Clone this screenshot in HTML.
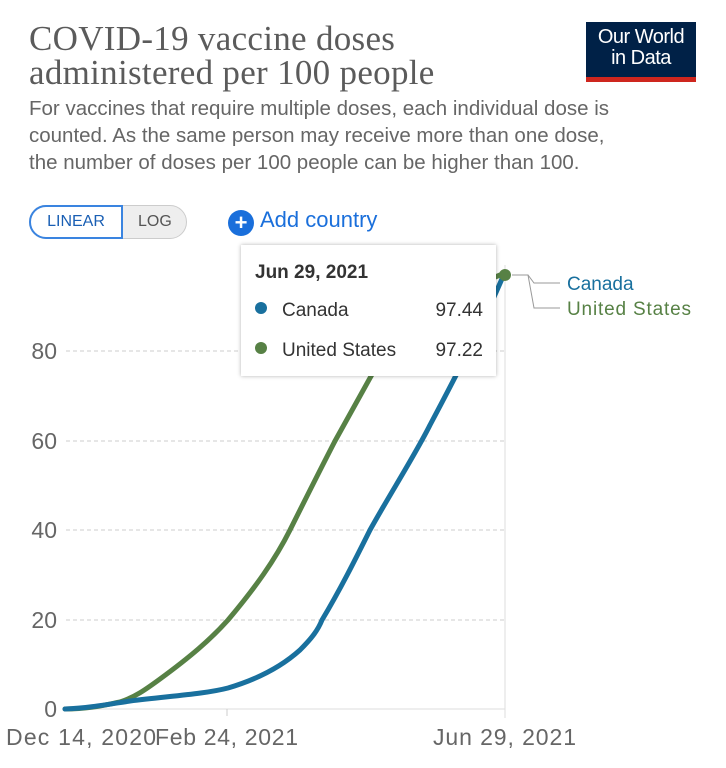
<!DOCTYPE html>
<html><head><style>
body{margin:0;width:726px;height:768px;background:#fff;overflow:hidden;position:relative;font-family:"Liberation Sans",sans-serif}
.t{position:absolute;left:29px;top:22px;font-family:"Liberation Serif",serif;font-size:35px;line-height:34px;color:#5b5b5b;letter-spacing:0.3px}
.s{position:absolute;left:29px;top:95px;font-size:20.5px;line-height:27px;color:#666}
.logo{position:absolute;left:586px;top:22px;width:110px;height:60px;background:#002147;color:#fff;font-size:20px;line-height:21px;text-align:center;box-sizing:border-box;padding-top:5px;border-bottom:5px solid #ce261e;letter-spacing:-0.5px}
.tg{position:absolute;left:29px;top:205px;height:34px;width:158px;border:1px solid #ccc;border-radius:18px;background:#eee;box-sizing:border-box;font-size:16px}
.tg .a{position:absolute;left:-1px;top:-1px;width:94px;height:34px;border:2px solid #3a84e0;border-radius:18px 0 0 18px;background:#fff;box-sizing:border-box;color:#1a5fb4;text-align:center;line-height:30px}
.tg .b{position:absolute;left:108px;top:0;line-height:32px;color:#555}
.add{position:absolute;left:228px;top:207px;font-size:22px;color:#1a6fdb}
.add span{display:inline-block;width:26px;height:26px;border-radius:13px;background:#1a6fdb;color:#fff;text-align:center;line-height:26px;font-weight:bold;margin-right:6px;vertical-align:-3px}
.tip{position:absolute;left:241px;top:245px;width:255px;height:131px;background:#fff;box-shadow:0 0 4px rgba(0,0,0,.3);font-size:19px;color:#333}
</style></head><body>
<div class="t">COVID-19 vaccine doses<br>administered per 100 people</div>
<div class="s">For vaccines that require multiple doses, each individual dose is<br>counted. As the same person may receive more than one dose,<br>the number of doses per 100 people can be higher than 100.</div>
<div class="logo">Our World<br>in Data</div>
<div class="tg"><div class="a">LINEAR</div><div class="b">LOG</div></div>
<div class="add"><span>+</span>Add country</div>
<svg width="726" height="768" style="position:absolute;left:0;top:0">
<g stroke="#ccc" stroke-dasharray="4,3" stroke-width="1">
<line x1="66" y1="620" x2="505" y2="620"/><line x1="66" y1="530" x2="505" y2="530"/><line x1="66" y1="441" x2="505" y2="441"/><line x1="66" y1="351" x2="505" y2="351"/>
</g>
<line x1="505" y1="265" x2="505" y2="718" stroke="#ddd"/>
<line x1="64" y1="709" x2="505" y2="709" stroke="#ddd"/>
<line x1="227" y1="709" x2="227" y2="716" stroke="#ccc"/>
<g font-size="23" fill="#666" text-anchor="end">
<text x="57" y="717">0</text><text x="57" y="628">20</text><text x="57" y="538">40</text><text x="57" y="449">60</text><text x="57" y="359">80</text>
</g>
<g font-size="23" fill="#666">
<text x="6" y="745" textLength="150">Dec 14, 2020</text><text x="155" y="745" textLength="143">Feb 24, 2021</text><text x="433" y="745" textLength="143">Jun 29, 2021</text>
</g>
<path d="M65 709 C90 709 105 705 120 702 C135 697 145 690 160 679 C190 657 210 640 228 620 C255 588 275 560 290 530 C305 500 320 470 335 441 C355 405 370 378 385 351 C410 320 450 295 505 273" fill="none" stroke="#578145" stroke-width="5" stroke-linejoin="round" stroke-linecap="round"/>
<path d="M65 709 C90 708 110 704 130 701 C170 696 205 694 228 688 C255 680 280 668 300 650 C312 638 318 630 322 620 C340 590 355 560 370 530 C390 494 415 455 430 425 C455 378 480 330 505 272" fill="none" stroke="#19709e" stroke-width="5" stroke-linejoin="round" stroke-linecap="round"/>
<circle cx="505" cy="275" r="6" fill="#578145"/>
<polyline points="512,275 528,275 534,283 560,283" fill="none" stroke="#999"/>
<polyline points="512,275 528,275 534,308 560,308" fill="none" stroke="#999"/>
<text x="567" y="290" font-size="19" fill="#19709e">Canada</text>
<text x="567" y="315" font-size="19" fill="#578145" textLength="124">United States</text>
</svg>
<div class="tip">
<div style="position:absolute;left:14px;top:17px;font-weight:bold;font-size:19px">Jun 29, 2021</div>
<div style="position:absolute;left:14px;top:57px;border-radius:6px;background:#19709e;width:12px;height:12px"></div>
<div style="position:absolute;left:41px;top:55px">Canada</div><div style="position:absolute;right:13px;top:55px">97.44</div>
<div style="position:absolute;left:14px;top:97px;border-radius:6px;background:#578145;width:12px;height:12px"></div>
<div style="position:absolute;left:41px;top:95px">United States</div><div style="position:absolute;right:13px;top:95px">97.22</div>
</div>
</body></html>
